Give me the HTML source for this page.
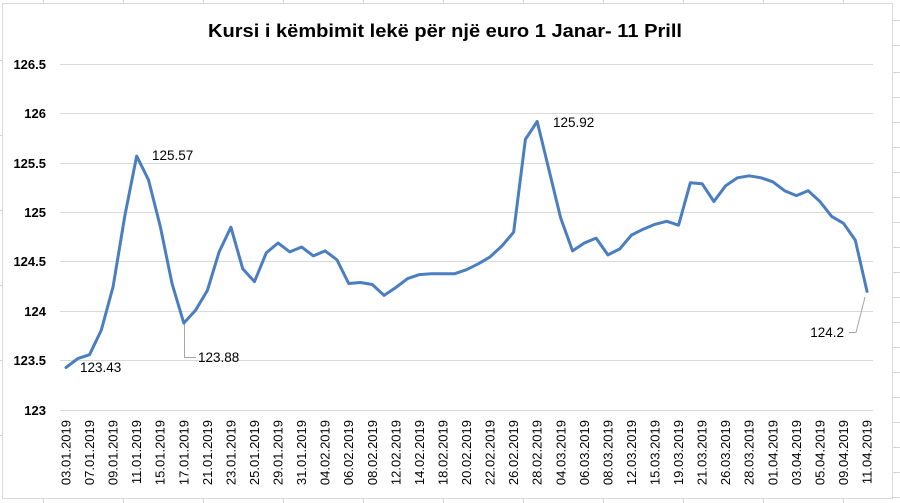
<!DOCTYPE html>
<html>
<head>
<meta charset="utf-8">
<style>
html,body{margin:0;padding:0;background:#fff;}
svg{display:block;}
text{font-family:"Liberation Sans",Arial,sans-serif;}
</style>
</head>
<body>
<svg width="900" height="503" viewBox="0 0 900 503" xmlns="http://www.w3.org/2000/svg">
<rect x="0" y="0" width="900" height="503" fill="#fff"/>
<!-- spreadsheet grid outside chart -->
<g stroke="#d4d4d4" stroke-width="1">
<line x1="43.5" y1="0" x2="43.5" y2="3"/><line x1="123.5" y1="0" x2="123.5" y2="3"/><line x1="203.5" y1="0" x2="203.5" y2="3"/><line x1="283.5" y1="0" x2="283.5" y2="3"/><line x1="363.5" y1="0" x2="363.5" y2="3"/><line x1="443.5" y1="0" x2="443.5" y2="3"/><line x1="523.5" y1="0" x2="523.5" y2="3"/><line x1="603.5" y1="0" x2="603.5" y2="3"/><line x1="683.5" y1="0" x2="683.5" y2="3"/><line x1="763.5" y1="0" x2="763.5" y2="3"/><line x1="843.5" y1="0" x2="843.5" y2="3"/>
<line x1="43.5" y1="499" x2="43.5" y2="503"/><line x1="123.5" y1="499" x2="123.5" y2="503"/><line x1="203.5" y1="499" x2="203.5" y2="503"/><line x1="283.5" y1="499" x2="283.5" y2="503"/><line x1="363.5" y1="499" x2="363.5" y2="503"/><line x1="443.5" y1="499" x2="443.5" y2="503"/><line x1="523.5" y1="499" x2="523.5" y2="503"/><line x1="603.5" y1="499" x2="603.5" y2="503"/><line x1="683.5" y1="499" x2="683.5" y2="503"/><line x1="763.5" y1="499" x2="763.5" y2="503"/><line x1="843.5" y1="499" x2="843.5" y2="503"/>
<line x1="893" y1="20.5" x2="900" y2="20.5"/><line x1="893" y1="45.5" x2="900" y2="45.5"/><line x1="893" y1="72.5" x2="900" y2="72.5"/><line x1="893" y1="97.5" x2="900" y2="97.5"/><line x1="893" y1="122.5" x2="900" y2="122.5"/><line x1="893" y1="147.5" x2="900" y2="147.5"/><line x1="893" y1="172.5" x2="900" y2="172.5"/><line x1="893" y1="197.5" x2="900" y2="197.5"/><line x1="893" y1="222.5" x2="900" y2="222.5"/><line x1="893" y1="247.5" x2="900" y2="247.5"/><line x1="893" y1="272.5" x2="900" y2="272.5"/><line x1="893" y1="297.5" x2="900" y2="297.5"/><line x1="893" y1="322.5" x2="900" y2="322.5"/><line x1="893" y1="347.5" x2="900" y2="347.5"/><line x1="893" y1="372.5" x2="900" y2="372.5"/><line x1="893" y1="397.5" x2="900" y2="397.5"/><line x1="893" y1="422.5" x2="900" y2="422.5"/><line x1="893" y1="447.5" x2="900" y2="447.5"/><line x1="893" y1="472.5" x2="900" y2="472.5"/><line x1="893" y1="497.5" x2="900" y2="497.5"/>
<line x1="0" y1="60.5" x2="2" y2="60.5"/><line x1="0" y1="135.5" x2="2" y2="135.5"/><line x1="0" y1="210.5" x2="2" y2="210.5"/><line x1="0" y1="285.5" x2="2" y2="285.5"/><line x1="0" y1="360.5" x2="2" y2="360.5"/><line x1="0" y1="435.5" x2="2" y2="435.5"/>
</g>
<!-- chart border -->
<rect x="2.5" y="3.5" width="890" height="495" fill="#fff" stroke="#d9d9d9" stroke-width="1"/>

<!-- title -->
<text x="445" y="37" text-anchor="middle" font-size="18.5" font-weight="bold" fill="#000" textLength="474" lengthAdjust="spacingAndGlyphs">Kursi i këmbimit lekë për një euro 1 Janar- 11 Prill</text>

<!-- gridlines -->
<g stroke="#d9d9d9" stroke-width="1">
<line x1="60" y1="64.5" x2="873" y2="64.5"/>
<line x1="60" y1="113.5" x2="873" y2="113.5"/>
<line x1="60" y1="163.5" x2="873" y2="163.5"/>
<line x1="60" y1="212.5" x2="873" y2="212.5"/>
<line x1="60" y1="261.5" x2="873" y2="261.5"/>
<line x1="60" y1="311.5" x2="873" y2="311.5"/>
<line x1="60" y1="360.5" x2="873" y2="360.5"/>
<line x1="60" y1="410.5" x2="873" y2="410.5"/>
</g>

<!-- y labels -->
<g font-size="13" font-weight="bold" fill="#000" text-anchor="end">
<text x="46" y="69">126.5</text>
<text x="46" y="118">126</text>
<text x="46" y="168">125.5</text>
<text x="46" y="217">125</text>
<text x="46" y="266">124.5</text>
<text x="46" y="316">124</text>
<text x="46" y="365">123.5</text>
<text x="46" y="415">123</text>
</g>

<!-- x labels -->
<g font-size="13" fill="#000" text-anchor="end">
<text transform="translate(70.5,420) rotate(-90)">03.01.2019</text>
<text transform="translate(94.06,420) rotate(-90)">07.01.2019</text>
<text transform="translate(117.62,420) rotate(-90)">09.01.2019</text>
<text transform="translate(141.18,420) rotate(-90)">11.01.2019</text>
<text transform="translate(164.74,420) rotate(-90)">15.01.2019</text>
<text transform="translate(188.3,420) rotate(-90)">17.01.2019</text>
<text transform="translate(211.86,420) rotate(-90)">21.01.2019</text>
<text transform="translate(235.42,420) rotate(-90)">23.01.2019</text>
<text transform="translate(258.98,420) rotate(-90)">25.01.2019</text>
<text transform="translate(282.54,420) rotate(-90)">29.01.2019</text>
<text transform="translate(306.1,420) rotate(-90)">31.01.2019</text>
<text transform="translate(329.66,420) rotate(-90)">04.02.2019</text>
<text transform="translate(353.22,420) rotate(-90)">06.02.2019</text>
<text transform="translate(376.78,420) rotate(-90)">08.02.2019</text>
<text transform="translate(400.34,420) rotate(-90)">12.02.2019</text>
<text transform="translate(423.9,420) rotate(-90)">14.02.2019</text>
<text transform="translate(447.46,420) rotate(-90)">18.02.2019</text>
<text transform="translate(471.02,420) rotate(-90)">20.02.2019</text>
<text transform="translate(494.58,420) rotate(-90)">22.02.2019</text>
<text transform="translate(518.14,420) rotate(-90)">26.02.2019</text>
<text transform="translate(541.7,420) rotate(-90)">28.02.2019</text>
<text transform="translate(565.26,420) rotate(-90)">04.03.2019</text>
<text transform="translate(588.82,420) rotate(-90)">06.03.2019</text>
<text transform="translate(612.38,420) rotate(-90)">08.03.2019</text>
<text transform="translate(635.94,420) rotate(-90)">12.03.2019</text>
<text transform="translate(659.5,420) rotate(-90)">15.03.2019</text>
<text transform="translate(683.06,420) rotate(-90)">19.03.2019</text>
<text transform="translate(706.62,420) rotate(-90)">21.03.2019</text>
<text transform="translate(730.18,420) rotate(-90)">26.03.2019</text>
<text transform="translate(753.74,420) rotate(-90)">28.03.2019</text>
<text transform="translate(777.3,420) rotate(-90)">01.04.2019</text>
<text transform="translate(800.86,420) rotate(-90)">03.04.2019</text>
<text transform="translate(824.42,420) rotate(-90)">05.04.2019</text>
<text transform="translate(847.98,420) rotate(-90)">09.04.2019</text>
<text transform="translate(871.54,420) rotate(-90)">11.04.2019</text>
</g>

<!-- leader lines -->
<g stroke="#a6a6a6" stroke-width="1" fill="none">
<polyline points="184.5,324 184.5,357.5 196,357.5"/>
<polyline points="849,332.5 856,332.5 865,297"/>
</g>

<!-- series -->
<polyline fill="none" stroke="#4A7EC1" stroke-width="3" stroke-linejoin="round" stroke-linecap="round" points="
66.0,367.5 77.78,358.6 89.56,354.7 101.34,330.0 113.12,286.5 124.9,215.4 136.68,156.1 148.46,179.8 160.24,226.2 172.02,283.5
183.8,323.1 195.58,310.2 207.36,290.5 219.14,251.9 230.92,227.2 242.7,268.7 254.48,281.6 266.26,252.9 278.04,243.0 289.82,251.9
301.6,247.0 313.38,255.9 325.16,250.9 336.94,259.8 348.72,283.5 360.5,282.5 372.28,284.5 384.06,295.4 395.84,287.5 407.62,278.6
419.4,274.6 431.18,273.7 442.96,273.7 454.74,273.7 466.52,269.7 478.3,263.8 490.08,256.9 501.86,246.0 513.64,232.2 525.42,139.3
537.2,121.5 548.98,169.9 560.76,218.3 572.54,250.9 584.32,243.0 596.1,238.1 607.88,254.9 619.66,249.0 631.44,235.1 643.22,229.2
655.0,224.3 666.78,221.3 678.56,225.2 690.34,182.8 702.12,183.7 713.9,201.5 725.68,185.7 737.46,177.8 749.24,175.8 761.02,177.8
772.8,181.8 784.58,190.7 796.36,195.6 808.14,190.7 819.92,201.5 831.7,216.4 843.48,223.3 855.26,240.1 867.04,291.4"/>

<!-- data labels -->
<g font-size="13.5" fill="#000">
<text x="80" y="372">123.43</text>
<text x="152" y="160">125.57</text>
<text x="198" y="362">123.88</text>
<text x="553" y="127">125.92</text>
<text x="844" y="337" text-anchor="end">124.2</text>
</g>
</svg>
</body>
</html>
